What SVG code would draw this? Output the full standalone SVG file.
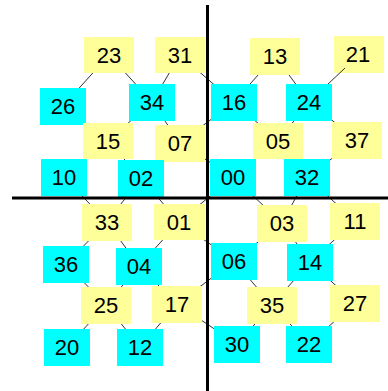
<svg xmlns="http://www.w3.org/2000/svg" width="388" height="391" viewBox="0 0 388 391">
<style>
.y{fill:#FFFF99}
.c{fill:#00FFFF}
text{font-family:"Liberation Sans",Arial,sans-serif;font-size:22px;fill:#000;text-anchor:middle}
#connectors line{stroke:#333;stroke-width:1}
.axis{stroke:#000;stroke-width:3}
</style>
<rect width="388" height="391" fill="#fff"/>
<g id="n21"><rect class="y" x="334" y="36" width="50" height="37"/><text x="358" y="62">21</text></g>
<g id="connectors">
<line x1="109" y1="55" x2="63" y2="106"/>
<line x1="109" y1="55" x2="152" y2="102"/>
<line x1="180" y1="55" x2="152" y2="102"/>
<line x1="180" y1="55" x2="234" y2="102"/>
<line x1="275" y1="56" x2="234" y2="102"/>
<line x1="275" y1="56" x2="309" y2="102"/>
<line x1="345" y1="68" x2="309" y2="102"/>
<line x1="63" y1="106" x2="108" y2="141"/>
<line x1="152" y1="102" x2="108" y2="141"/>
<line x1="152" y1="102" x2="180" y2="143"/>
<line x1="234" y1="102" x2="180" y2="143"/>
<line x1="234" y1="102" x2="278" y2="141"/>
<line x1="309" y1="102" x2="278" y2="141"/>
<line x1="309" y1="102" x2="357" y2="140"/>
<line x1="108" y1="141" x2="64" y2="177"/>
<line x1="108" y1="141" x2="141" y2="178"/>
<line x1="180" y1="143" x2="141" y2="178"/>
<line x1="180" y1="143" x2="233" y2="177"/>
<line x1="278" y1="141" x2="233" y2="177"/>
<line x1="278" y1="141" x2="307" y2="177"/>
<line x1="357" y1="140" x2="307" y2="177"/>
<line x1="64" y1="177" x2="107" y2="222"/>
<line x1="141" y1="178" x2="107" y2="222"/>
<line x1="141" y1="178" x2="179" y2="222"/>
<line x1="233" y1="177" x2="179" y2="222"/>
<line x1="233" y1="177" x2="282" y2="223"/>
<line x1="307" y1="177" x2="282" y2="223"/>
<line x1="307" y1="177" x2="355" y2="221"/>
<line x1="107" y1="222" x2="66" y2="264"/>
<line x1="107" y1="222" x2="139" y2="266"/>
<line x1="179" y1="222" x2="139" y2="266"/>
<line x1="179" y1="222" x2="234" y2="261"/>
<line x1="282" y1="223" x2="234" y2="261"/>
<line x1="282" y1="223" x2="310" y2="262"/>
<line x1="355" y1="221" x2="310" y2="262"/>
<line x1="66" y1="264" x2="106" y2="305"/>
<line x1="139" y1="266" x2="106" y2="305"/>
<line x1="139" y1="266" x2="177" y2="304"/>
<line x1="234" y1="261" x2="177" y2="304"/>
<line x1="234" y1="261" x2="272" y2="305"/>
<line x1="310" y1="262" x2="272" y2="305"/>
<line x1="310" y1="262" x2="355" y2="303"/>
<line x1="106" y1="305" x2="67" y2="347"/>
<line x1="106" y1="305" x2="140" y2="347"/>
<line x1="177" y1="304" x2="140" y2="347"/>
<line x1="177" y1="304" x2="237" y2="344"/>
<line x1="272" y1="305" x2="237" y2="344"/>
<line x1="272" y1="305" x2="309" y2="344"/>
<line x1="355" y1="303" x2="309" y2="344"/>
</g>
<g id="n23"><rect class="y" x="84" y="37" width="50" height="36"/><text x="109" y="63">23</text></g>
<g id="n31"><rect class="y" x="155" y="37" width="50" height="36"/><text x="180" y="63">31</text></g>
<g id="n13"><rect class="y" x="250" y="38" width="50" height="37"/><text x="275" y="64">13</text></g>
<g id="n26"><rect class="c" x="40" y="88" width="46" height="37"/><text x="63" y="114">26</text></g>
<g id="n34"><rect class="c" x="129" y="84" width="46" height="37"/><text x="152" y="110">34</text></g>
<g id="n16"><rect class="c" x="211" y="84" width="46" height="37"/><text x="234" y="110">16</text></g>
<g id="n24"><rect class="c" x="286" y="84" width="46" height="37"/><text x="309" y="110">24</text></g>
<g id="n15"><rect class="y" x="83" y="123" width="50" height="36"/><text x="108" y="149">15</text></g>
<g id="n07"><rect class="y" x="155" y="125" width="50" height="37"/><text x="180" y="151">07</text></g>
<g id="n05"><rect class="y" x="253" y="123" width="50" height="36"/><text x="278" y="149">05</text></g>
<g id="n37"><rect class="y" x="332" y="122" width="50" height="37"/><text x="357" y="148">37</text></g>
<g id="n10"><rect class="c" x="41" y="159" width="46" height="37"/><text x="64" y="185">10</text></g>
<g id="n02"><rect class="c" x="118" y="160" width="46" height="37"/><text x="141" y="186">02</text></g>
<g id="n00"><rect class="c" x="210" y="159" width="46" height="37"/><text x="233" y="185">00</text></g>
<g id="n32"><rect class="c" x="284" y="159" width="46" height="37"/><text x="307" y="185">32</text></g>
<g id="n33"><rect class="y" x="82" y="204" width="50" height="37"/><text x="107" y="230">33</text></g>
<g id="n01"><rect class="y" x="154" y="204" width="51" height="36"/><text x="179" y="230">01</text></g>
<g id="n03"><rect class="y" x="257" y="205" width="50" height="37"/><text x="282" y="231">03</text></g>
<g id="n11"><rect class="y" x="330" y="203" width="50" height="37"/><text x="355" y="229">11</text></g>
<g id="n36"><rect class="c" x="43" y="246" width="46" height="37"/><text x="66" y="272">36</text></g>
<g id="n04"><rect class="c" x="116" y="248" width="46" height="37"/><text x="139" y="274">04</text></g>
<g id="n06"><rect class="c" x="211" y="243" width="46" height="37"/><text x="234" y="269">06</text></g>
<g id="n14"><rect class="c" x="287" y="244" width="46" height="37"/><text x="310" y="270">14</text></g>
<g id="n25"><rect class="y" x="81" y="287" width="50" height="37"/><text x="106" y="313">25</text></g>
<g id="n17"><rect class="y" x="152" y="286" width="50" height="37"/><text x="177" y="312">17</text></g>
<g id="n35"><rect class="y" x="247" y="287" width="50" height="37"/><text x="272" y="313">35</text></g>
<g id="n27"><rect class="y" x="330" y="285" width="50" height="37"/><text x="355" y="311">27</text></g>
<g id="n20"><rect class="c" x="44" y="329" width="46" height="37"/><text x="67" y="355">20</text></g>
<g id="n12"><rect class="c" x="117" y="329" width="46" height="37"/><text x="140" y="355">12</text></g>
<g id="n30"><rect class="c" x="214" y="326" width="46" height="37"/><text x="237" y="352">30</text></g>
<g id="n22"><rect class="c" x="286" y="326" width="46" height="37"/><text x="309" y="352">22</text></g>
<g id="axes">
<line class="axis" x1="12" y1="198" x2="388" y2="198"/>
<line class="axis" x1="207.5" y1="5" x2="207.5" y2="391"/>
</g>
</svg>
